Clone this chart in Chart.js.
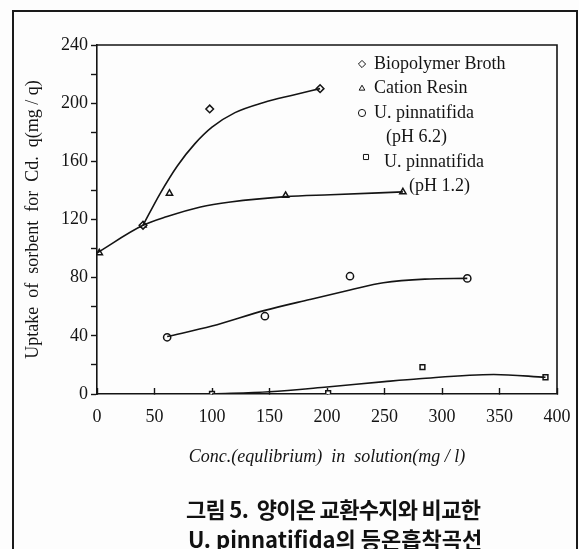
<!DOCTYPE html>
<html>
<head>
<meta charset="utf-8">
<script src="https://cdn.jsdelivr.net/npm/chart.js@4/dist/chart.umd.min.js"></script>
<style>
  html, body { margin: 0; padding: 0; background: #fdfdfd; }
  #wrap { position: relative; width: 579px; height: 549px; overflow: hidden; }
  #frame {
    position: absolute; left: 12px; top: 10px; width: 562px; height: 560px;
    border-left: 2px solid #1a1a1a; border-top: 2px solid #1a1a1a; border-right: 2px solid #1a1a1a;
  }
  .cap {
    position: absolute; left: 186px; line-height: 30px;
    font-family: "Noto Sans CJK KR", sans-serif; font-weight: 700; font-size: 22px;
    color: #111; white-space: pre; letter-spacing: -0.7px;
  }
</style>
</head>
<body>
<div id="wrap">
  <div id="frame"></div>
  <canvas id="isoChart" width="579" height="549"></canvas>
  <div class="cap" style="top:493px">그림 5.  양이온 교환수지와 비교한</div>
  <div class="cap" style="top:523px;left:188px;letter-spacing:0px">U. pinnatifida의 등온흡착곡선</div>
</div>
<script>
// =============================================
// DATA
// =============================================

// measured points
const bioX = [40, 98, 194];
const bioY = [116, 196, 210];
const resinX = [2, 40, 63, 164, 266];
const resinY = [97, 116, 138, 136.5, 139];
const ph62X = [61, 146, 220, 322];
const ph62Y = [39, 53.5, 81, 79.5];
const ph12X = [100, 201, 283, 390];
const ph12Y = [0, 0.5, 18.5, 11.5];

// hand-drawn fitted curves
const bioFitX = [40, 55, 70, 85, 100, 120, 145, 170, 194];
const bioFitY = [116, 138, 157, 172, 183.5, 193.5, 200.5, 205.5, 210];
const resinFitX = [0, 40, 61, 90, 116, 164, 203, 266];
const resinFitY = [97, 116, 122, 128.6, 132, 135.7, 137, 139];
const ph62FitX = [61, 100, 146, 185, 220, 249, 285, 322];
const ph62FitY = [39.5, 46.7, 57.5, 65, 71.5, 76.5, 79, 79.5];
const ph12FitX = [100, 150, 200, 250, 280, 345, 390];
const ph12FitY = [0, 1.5, 4.8, 8.5, 10.5, 13.4, 11.5];

const xTicks = [0, 50, 100, 150, 200, 250, 300, 350, 400];
const yTicks = [0, 40, 80, 120, 160, 200, 240];

const legendRows = [
    { style: 'rectRot', lines: ['Biopolymer Broth'] },
    { style: 'triangle', lines: ['Cation Resin'] },
    { style: 'circle', lines: ['U. pinnatifida', '(pH 6.2)'] },
    { style: 'rect', lines: ['U. pinnatifida', '(pH 1.2)'] }
];

const INK = '#141414';
const PAPER = '#fdfdfd';
const SERIF = '"Liberation Serif", "DejaVu Serif", serif';

function pts(xs, ys) {
    return xs.map((x, i) => ({ x: x, y: ys[i] }));
}

function markers(xs, ys, style, r) {
    return {
        data: pts(xs, ys),
        showLine: false,
        pointStyle: style,
        pointRadius: r,
        pointBorderWidth: 1.5,
        pointBorderColor: INK,
        pointBackgroundColor: PAPER
    };
}

function curve(xs, ys) {
    return {
        data: pts(xs, ys),
        showLine: true,
        borderColor: INK,
        borderWidth: 1.6,
        pointRadius: 0,
        cubicInterpolationMode: 'monotone'
    };
}

// =============================================
// PLUGINS: plot frame + in-plot legend
// =============================================

const framePlugin = {
    id: 'frame',
    afterDraw(c) {
        const a = c.chartArea;
        const ctx = c.ctx;
        ctx.save();
        ctx.strokeStyle = INK;
        ctx.lineWidth = 1.6;
        ctx.beginPath();
        ctx.moveTo(a.left, a.top);
        ctx.lineTo(a.right, a.top);
        ctx.lineTo(a.right, a.bottom);
        ctx.stroke();
        ctx.restore();
    }
};

const legendPlugin = {
    id: 'inLegend',
    afterDraw(c) {
        const ctx = c.ctx;
        const a = c.chartArea;
        const mx = a.left + 265;   // marker column
        const tx = a.left + 277;   // text column
        let y = a.top + 19;
        ctx.save();
        ctx.font = '18px ' + SERIF;
        ctx.textBaseline = 'middle';
        legendRows.forEach((row, i) => {
            ctx.fillStyle = PAPER;
            ctx.strokeStyle = INK;
            Chart.helpers.drawPoint(ctx, {
                pointStyle: row.style, radius: row.style === 'triangle' ? 3.3 : 3.6,
                borderWidth: 1.5
            }, mx + (i === 3 ? 4 : 0), y - (i === 3 ? 5 : 0));
            ctx.fillStyle = INK;
            row.lines.forEach((t, j) => {
                let x = tx + (j > 0 ? 12 : 0);
                if (i === 3) x += j > 0 ? 23 : 10;
                ctx.fillText(t, x, y);
                y += 24.5;
            });
        });
        ctx.restore();
    }
};

// =============================================
// CHART
// =============================================

const ctx = document.getElementById('isoChart').getContext('2d');

const chart = new Chart(ctx, {
    type: 'scatter',
    data: {
        datasets: [
            curve(bioFitX, bioFitY),
            curve(resinFitX, resinFitY),
            curve(ph62FitX, ph62FitY),
            curve(ph12FitX, ph12FitY),
            markers(bioX, bioY, 'rectRot', 3.8),
            markers(resinX, resinY, 'triangle', 3.6),
            markers(ph62X, ph62Y, 'circle', 3.6),
            markers(ph12X, ph12Y, 'rect', 3.4)
        ]
    },
    options: {
        responsive: false,
        animation: false,
        layout: { padding: { left: 18, top: 45, right: 22, bottom: 81 } },
        plugins: {
            legend: { display: false },
            tooltip: { enabled: false }
        },
        scales: {
            x: {
                type: 'linear',
                min: 0,
                max: 400,
                afterFit: (s) => {
                    s.height = 74;
                    s.paddingLeft = 0;
                    s.paddingRight = 0;
                },
                afterBuildTicks: (s) => { s.ticks = xTicks.map(v => ({ value: v })); },
                ticks: {
                    color: INK,
                    font: { family: SERIF, size: 18 },
                    padding: 18,
                    maxRotation: 0
                },
                grid: {
                    drawOnChartArea: false,
                    color: INK,
                    tickLength: -6,
                    tickWidth: 1.4
                },
                border: { color: INK, width: 1.6 },
                title: {
                    display: true,
                    text: 'Conc.(equlibrium)  in  solution(mg / l)',
                    color: INK,
                    font: { family: SERIF, size: 18, style: 'italic' },
                    padding: 0
                }
            },
            y: {
                type: 'linear',
                min: 0,
                max: 240,
                afterFit: (s) => {
                    s.width = 79;
                    s.paddingTop = 0;
                    s.paddingBottom = 0;
                },
                ticks: {
                    stepSize: 20,
                    autoSkip: false,
                    color: INK,
                    font: { family: SERIF, size: 18 },
                    padding: 3,
                    callback: (v) => (yTicks.includes(v) ? v : '')
                },
                grid: {
                    drawOnChartArea: false,
                    color: INK,
                    tickLength: 6,
                    tickWidth: 1.4
                },
                border: { color: INK, width: 1.6 },
                title: {
                    display: true,
                    text: 'Uptake  of  sorbent  for  Cd.  q(mg / q)',
                    color: INK,
                    font: { family: SERIF, size: 18 },
                    padding: 4
                }
            }
        }
    },
    plugins: [framePlugin, legendPlugin]
});
</script>
</body>
</html>
